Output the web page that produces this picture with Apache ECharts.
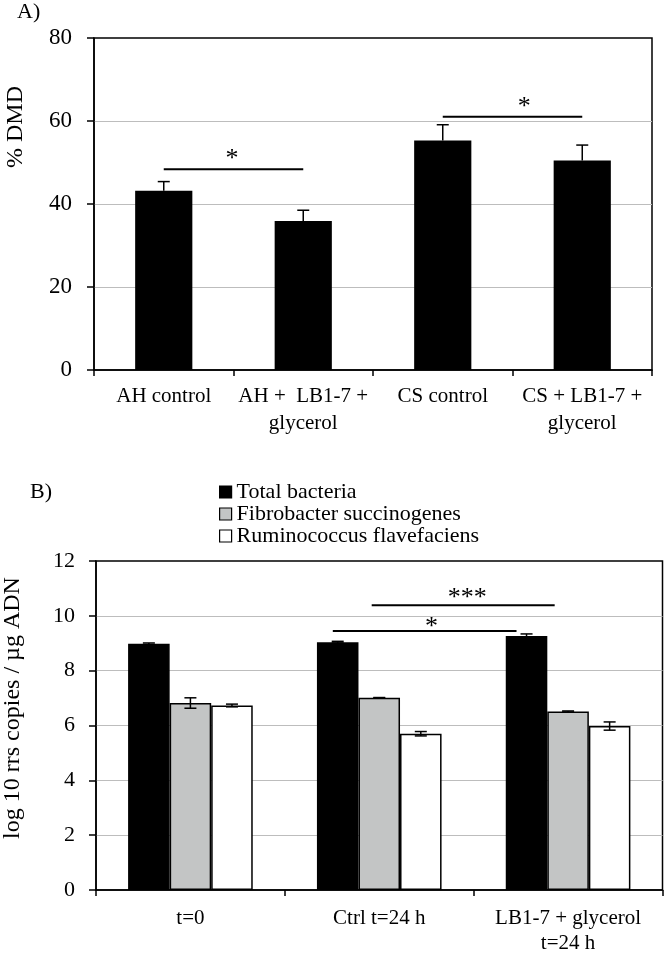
<!DOCTYPE html>
<html>
<head>
<meta charset="utf-8">
<script src="https://cdn.jsdelivr.net/npm/echarts@6/dist/echarts.min.js"></script>
<style>
html,body{margin:0;padding:0;background:#fff;}
#chart{width:664px;height:956px;}
</style>
</head>
<body>
<div id="chart"></div>
<script>
// ---------- Panel A data ----------
const categoriesA = ['AH control', 'AH +  LB1-7 +\nglycerol', 'CS control', 'CS + LB1-7 +\nglycerol'];
const dmdValues = [43.2, 35.9, 55.3, 50.5];
const dmdErrors = [2.2, 2.6, 3.8, 3.7];
const ticksA = [0, 20, 40, 60, 80];
// significance bars: [from, to, level]; stars: [position, level, text]
const sigLinesA = [[0, 1, 48.4], [2, 3, 61.0]];
const sigStarsA = [[0.49, 50.7, '*'], [2.585, 63.3, '*']];

// ---------- Panel B data ----------
const categoriesB = ['t=0', 'Ctrl t=24 h', 'LB1-7 + glycerol\nt=24 h'];
const seriesNamesB = ['Total bacteria', 'Fibrobacter succinogenes', 'Ruminococcus flavefaciens'];
const totalBacteria = [8.98, 9.04, 9.26];
const totalBacteriaErr = [0.03, 0.03, 0.08];
const fibrobacter = [6.82, 7.01, 6.51];
const fibrobacterErr = [0.19, 0.01, 0.02];
const ruminococcus = [6.73, 5.70, 5.98];
const ruminococcusErr = [0.05, 0.08, 0.15];
const ticksB = [0, 2, 4, 6, 8, 10, 12];
const sigLinesB = [[0.754, 1.727, 9.45], [0.960, 1.929, 10.39]];
const sigStarsB = [[1.277, 9.57, '*'], [1.466, 10.66, '***']];

const serif = "'Liberation Serif','Times New Roman',serif";
const chart = echarts.init(document.getElementById('chart'), null, {renderer: 'canvas'});

const catGapA = 0.59;
const catGapB = 0.34;
const barFracB = (1 - catGapB) / 3;

const axisLineStyle = {show: true, onZero: false, lineStyle: {color: '#000', width: 1.5}};
const yTick = {show: true, length: 7, lineStyle: {color: '#000', width: 1.5}};
const xTick = {show: true, length: 6, lineStyle: {color: '#000', width: 1.5}};

function errRender(twoSided) {
  return function (params, api) {
    const x = api.value(0);
    const lo = api.coord([x, api.value(1)]);
    const hi = api.coord([x, api.value(2)]);
    const cw = 6;
    const st = {stroke: '#000', lineWidth: 1.5};
    const children = [
      {type: 'line', shape: {x1: lo[0], y1: lo[1], x2: hi[0], y2: hi[1]}, style: st},
      {type: 'line', shape: {x1: hi[0] - cw, y1: hi[1], x2: hi[0] + cw, y2: hi[1]}, style: st}
    ];
    if (twoSided) children.push({type: 'line', shape: {x1: lo[0] - cw, y1: lo[1], x2: lo[0] + cw, y2: lo[1]}, style: st});
    return {type: 'group', children: children};
  };
}

function sigLineRender(params, api) {
  const a = api.coord([api.value(0), api.value(2)]);
  const b = api.coord([api.value(1), api.value(2)]);
  return {type: 'line', shape: {x1: a[0], y1: a[1], x2: b[0], y2: b[1]}, style: {stroke: '#000', lineWidth: 2}};
}

function starRender(list, fs) {
  return function (params, api) {
    const p = api.coord([api.value(0), api.value(1)]);
    return {type: 'text', x: p[0], y: p[1], style: {text: list[params.dataIndex][2], fill: '#000', font: fs + 'px ' + serif, align: 'center', verticalAlign: 'middle'}};
  };
}

const option = {
  animation: false,
  backgroundColor: '#fff',
  textStyle: {fontFamily: serif},
  grid: [
    {left: 94, right: 12, top: 38, bottom: 586, show: true, borderColor: '#000', borderWidth: 1.5, backgroundColor: 'transparent'},
    {left: 96, right: 1.5, top: 561, bottom: 59, show: true, borderColor: '#000', borderWidth: 1.5, backgroundColor: 'transparent'}
  ],
  legend: {
    orient: 'vertical', left: 219, top: 481, padding: 0, itemWidth: 12, itemHeight: 12, itemGap: 0,
    icon: 'rect', selectedMode: false,
    textStyle: {fontSize: 22, lineHeight: 22, color: '#000', fontFamily: serif},
    data: [
      {name: seriesNamesB[0], itemStyle: {color: '#000', borderColor: '#000', borderWidth: 1.2}},
      {name: seriesNamesB[1], itemStyle: {color: '#c3c5c5', borderColor: '#000', borderWidth: 1.2}},
      {name: seriesNamesB[2], itemStyle: {color: '#fff', borderColor: '#000', borderWidth: 1.2}}
    ]
  },
  graphic: [
    {type: 'text', left: 17, top: 1, style: {text: 'A)', font: '22px ' + serif, fill: '#000'}},
    {type: 'text', left: 30, top: 481, style: {text: 'B)', font: '22px ' + serif, fill: '#000'}},
    {type: 'text', x: 16, y: 127, rotation: Math.PI / 2, style: {text: '% DMD', font: '24px ' + serif, fill: '#000', align: 'center', verticalAlign: 'middle'}},
    {type: 'text', x: 13, y: 708, rotation: Math.PI / 2, style: {text: 'log 10 rrs copies / µg ADN', font: '24px ' + serif, fill: '#000', align: 'center', verticalAlign: 'middle'}}
  ],
  xAxis: [
    {type: 'category', gridIndex: 0, data: categoriesA,
      axisLine: axisLineStyle, axisTick: xTick,
      axisLabel: {interval: 0, margin: 13, color: '#000', fontSize: 21, lineHeight: 27, fontFamily: serif}},
    {type: 'value', gridIndex: 0, min: -0.5, max: 3.5, show: false},
    {type: 'category', gridIndex: 1, data: categoriesB,
      axisLine: axisLineStyle, axisTick: xTick,
      axisLabel: {interval: 0, margin: 16, color: '#000', fontSize: 21, lineHeight: 25, fontFamily: serif}},
    {type: 'value', gridIndex: 1, min: -0.5, max: 2.5, show: false}
  ],
  yAxis: [
    {type: 'value', gridIndex: 0, min: ticksA[0], max: ticksA[ticksA.length - 1], interval: ticksA[1] - ticksA[0],
      axisLine: axisLineStyle, axisTick: yTick,
      axisLabel: {margin: 22, color: '#000', fontSize: 23, fontFamily: serif},
      splitLine: {show: true, showMinLine: false, showMaxLine: false, lineStyle: {color: '#bdbdbd', width: 1.2}}},
    {type: 'value', gridIndex: 1, min: ticksB[0], max: ticksB[ticksB.length - 1], interval: ticksB[1] - ticksB[0],
      axisLine: axisLineStyle, axisTick: yTick,
      axisLabel: {margin: 21, color: '#000', fontSize: 22, fontFamily: serif},
      splitLine: {show: true, showMinLine: false, showMaxLine: false, lineStyle: {color: '#bdbdbd', width: 1.2}}}
  ],
  series: [
    {type: 'bar', name: 'DMD', xAxisIndex: 0, yAxisIndex: 0, data: dmdValues,
      barCategoryGap: (catGapA * 100) + '%', itemStyle: {color: '#000'}},
    {type: 'custom', xAxisIndex: 1, yAxisIndex: 0, z: 10,
      data: dmdValues.map((v, i) => [i, v, v + dmdErrors[i]]),
      encode: {x: 0, y: [1, 2]}, renderItem: errRender(false)},
    {type: 'custom', xAxisIndex: 1, yAxisIndex: 0, z: 10, data: sigLinesA,
      encode: {x: [0, 1], y: 2}, renderItem: sigLineRender},
    {type: 'custom', xAxisIndex: 1, yAxisIndex: 0, z: 10, data: sigStarsA.map(s => [s[0], s[1]]),
      encode: {x: 0, y: 1}, renderItem: starRender(sigStarsA, 26)},

    {type: 'bar', name: seriesNamesB[0], xAxisIndex: 2, yAxisIndex: 1, data: totalBacteria,
      barGap: '0%', barCategoryGap: (catGapB * 100) + '%', itemStyle: {color: '#000', borderColor: '#000', borderWidth: 1.5}},
    {type: 'bar', name: seriesNamesB[1], xAxisIndex: 2, yAxisIndex: 1, data: fibrobacter,
      barGap: '0%', barCategoryGap: (catGapB * 100) + '%', itemStyle: {color: '#c3c5c5', borderColor: '#000', borderWidth: 1.5}},
    {type: 'bar', name: seriesNamesB[2], xAxisIndex: 2, yAxisIndex: 1, data: ruminococcus,
      barGap: '0%', barCategoryGap: (catGapB * 100) + '%', itemStyle: {color: '#fff', borderColor: '#000', borderWidth: 1.5}},
    {type: 'custom', xAxisIndex: 3, yAxisIndex: 1, z: 10,
      data: [].concat(
        totalBacteria.map((v, i) => [i - barFracB, v - totalBacteriaErr[i], v + totalBacteriaErr[i]]),
        fibrobacter.map((v, i) => [i, v - fibrobacterErr[i], v + fibrobacterErr[i]]),
        ruminococcus.map((v, i) => [i + barFracB, v - ruminococcusErr[i], v + ruminococcusErr[i]])
      ),
      encode: {x: 0, y: [1, 2]}, renderItem: errRender(true)},
    {type: 'custom', xAxisIndex: 3, yAxisIndex: 1, z: 10, data: sigLinesB,
      encode: {x: [0, 1], y: 2}, renderItem: sigLineRender},
    {type: 'custom', xAxisIndex: 3, yAxisIndex: 1, z: 10, data: sigStarsB.map(s => [s[0], s[1]]),
      encode: {x: 0, y: 1}, renderItem: starRender(sigStarsB, 26)}
  ]
};
chart.setOption(option);
</script>
</body>
</html>
